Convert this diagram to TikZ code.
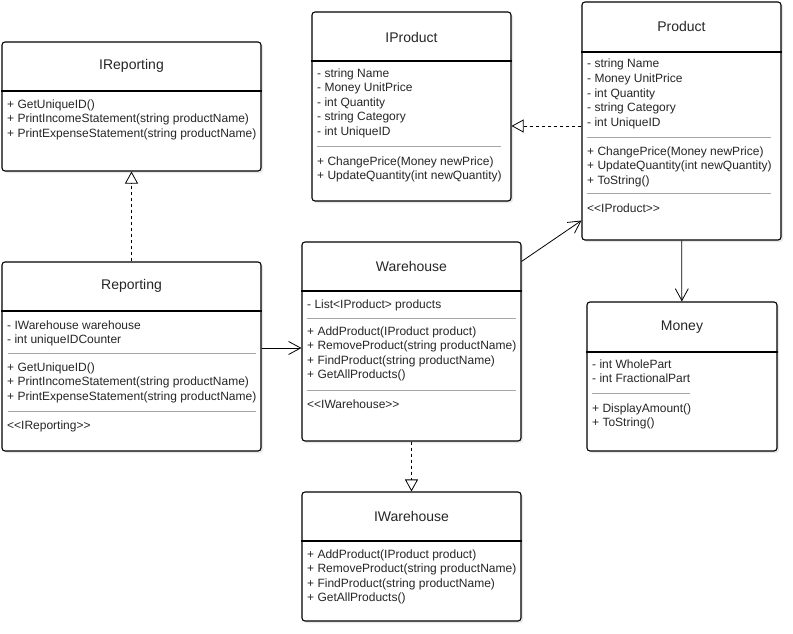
\documentclass[tikz,border=0pt]{standalone}
\usepackage{fontspec}
\setmainfont{Liberation Sans}[Ligatures=TeXOff]
\usetikzlibrary{arrows.meta,shadows}

\begin{document}
\begin{tikzpicture}[x=1pt,y=-1pt,
    class/.style={draw, line width=1.1pt, rounded corners=3pt, fill=white,
      drop shadow={opacity=0.18, shadow xshift=2pt, shadow yshift=-2pt}},
    head/.style={line width=1.1pt},
    title/.style={font=\fontsize{14}{17}\selectfont, text=black!85},
    member/.style={anchor=base west, align=left, inner sep=0pt,
      font=\fontsize{12}{14.6}\selectfont, text=black!85},
    rule/.style={draw=black!35, line width=0.8pt},
    realize/.style={dashed, line width=0.8pt, -{Triangle[open, length=12pt, width=13pt]}},
    uses/.style={line width=0.8pt, -{Straight Barb[length=12pt, width=13pt]}}]
    \fill[white] (0,0) rectangle (793,634);
    \useasboundingbox (0,0) rectangle (793,634);

    % IReporting
    \node[class, minimum width=259pt, minimum height=129pt] (irep) at (131.5,106.5) {};
    \draw[head] (irep.west |- 0,91) -- (irep.east |- 0,91);
    \node[title] (irep-t) at (131.5,66) {IReporting};
    \node[member] (irep-m) at (7,137.2) {+ GetUniqueID()\\+ PrintIncomeStatement(string productName)\\+ PrintExpenseStatement(string productName)};

    % IProduct
    \node[class, minimum width=199pt, minimum height=189pt] (iprod) at (411.5,106.5) {};
    \draw[head] (iprod.west |- 0,61) -- (iprod.east |- 0,61);
    \node[title] (iprod-t) at (411.5,37) {IProduct};
    \node[member] (iprod-a) at (317,135.4) {- string Name\\- Money UnitPrice\\- int Quantity\\- string Category\\- int UniqueID};
    \draw[rule] (317,146) -- (501,146);
    \node[member] (iprod-m) at (317,179.6) {+ ChangePrice(Money newPrice)\\+ UpdateQuantity(int newQuantity)};

    % Product
    \node[class, minimum width=199pt, minimum height=238pt] (prod) at (681.5,121) {};
    \draw[head] (prod.west |- 0,52) -- (prod.east |- 0,52);
    \node[title] (prod-t) at (681.5,26) {Product};
    \node[member] (prod-a) at (587,126.4) {- string Name\\- Money UnitPrice\\- int Quantity\\- string Category\\- int UniqueID};
    \draw[rule] (587,137) -- (771,137);
    \node[member] (prod-m) at (587,184.2) {+ ChangePrice(Money newPrice)\\+ UpdateQuantity(int newQuantity)\\+ ToString()};
    \draw[rule] (587,193) -- (771,193);
    \node[member] (prod-s) at (587,212) {<<IProduct>>};

    % Reporting
    \node[class, minimum width=259pt, minimum height=189pt] (rep) at (131.5,356.5) {};
    \draw[head] (rep.west |- 0,311) -- (rep.east |- 0,311);
    \node[title] (rep-t) at (131.5,286) {Reporting};
    \node[member] (rep-a) at (7,343.6) {- IWarehouse warehouse\\- int uniqueIDCounter};
    \draw[rule] (8,353) -- (256,353);
    \node[member] (rep-m) at (7,400.2) {+ GetUniqueID()\\+ PrintIncomeStatement(string productName)\\+ PrintExpenseStatement(string productName)};
    \draw[rule] (8,411) -- (256,411);
    \node[member] (rep-s) at (7,429) {<<IReporting>>};

    % Warehouse
    \node[class, minimum width=219pt, minimum height=199pt] (wh) at (411.5,341.5) {};
    \draw[head] (wh.west |- 0,291) -- (wh.east |- 0,291);
    \node[title] (wh-t) at (411.5,266) {Warehouse};
    \node[member] (wh-a) at (307,308) {- List<IProduct> products};
    \draw[rule] (307,318) -- (516,318);
    \node[member] (wh-m) at (307,378.8) {+ AddProduct(IProduct product)\\+ RemoveProduct(string productName)\\+ FindProduct(string productName)\\+ GetAllProducts()};
    \draw[rule] (307,390) -- (516,390);
    \node[member] (wh-s) at (307,408) {<<IWarehouse>>};

    % IWarehouse
    \node[class, minimum width=219pt, minimum height=129pt] (iwh) at (411.5,556.5) {};
    \draw[head] (iwh.west |- 0,541) -- (iwh.east |- 0,541);
    \node[title] (iwh-t) at (411.5,516) {IWarehouse};
    \node[member] (iwh-m) at (307,601.8) {+ AddProduct(IProduct product)\\+ RemoveProduct(string productName)\\+ FindProduct(string productName)\\+ GetAllProducts()};

    % Money
    \node[class, minimum width=190pt, minimum height=149pt] (money) at (682,376.5) {};
    \draw[head] (money.west |- 0,352) -- (money.east |- 0,352);
    \node[title] (money-t) at (682,327) {Money};
    \node[member] (money-a) at (592,382.6) {- int WholePart\\- int FractionalPart};
    \draw[rule] (592,393) -- (690,393);
    \node[member] (money-m) at (592,426.6) {+ DisplayAmount()\\+ ToString()};

    % connectors
    \draw[realize] (rep) -- (irep);
    \draw[realize] ([yshift=-5pt]prod.west) -- ([yshift=-5pt]prod.west -| iprod.east);
    \draw[realize] (wh) -- (iwh);
    \draw[uses] ([yshift=8.5pt]rep.east) -- ([yshift=8.5pt]rep.east -| wh.west);
    \draw[uses] ([yshift=-20pt]wh.north east) -- ([yshift=20pt]prod.south west);
    \draw[uses] (prod) -- (money);
\end{tikzpicture}
\end{document}
